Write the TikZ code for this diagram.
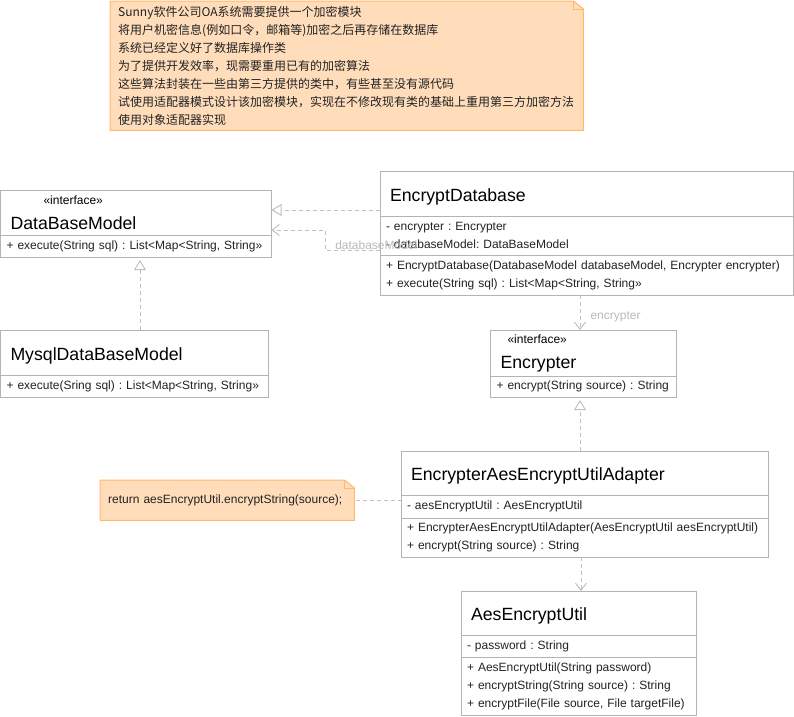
\documentclass[tikz,border=0pt]{standalone}
\usepackage{fontspec}
\setmainfont{Liberation Sans}
\newfontfamily\cjk{Noto Sans CJK SC}
\usetikzlibrary{positioning,arrows.meta,backgrounds}

\definecolor{boxgray}{RGB}{180,180,180}
\definecolor{linkgray}{RGB}{192,192,192}
\definecolor{labelgray}{RGB}{185,185,185}
\definecolor{textdark}{RGB}{34,34,34}
\definecolor{notefill}{RGB}{255,221,187}
\definecolor{noteline}{RGB}{255,185,110}

\tikzset{
  classbox/.style={draw=boxgray, line width=1pt, anchor=north west, align=left, inner ysep=2pt, outer sep=0pt},
  iname/.style={classbox, inner xsep=10pt, minimum height=45pt, text=black, font=\fontsize{17.7}{25}\selectfont},
  uname/.style={iname, text height=18.9pt, text depth=3.7pt},
  umember/.style={classbox, inner xsep=6pt, text=textdark, font=\frenchspacing\fontsize{12}{18}\selectfont},
  realize/.style={draw=linkgray, line width=1pt, dash pattern=on 4pt off 3pt, -{Triangle[open, length=10pt, width=12pt]}},
  depend/.style={draw=linkgray, line width=1pt, dash pattern=on 4pt off 3pt, -{Straight Barb[length=7pt, width=11pt]}},
  notelink/.style={draw=linkgray, line width=1pt, dash pattern=on 4pt off 3pt},
  notebox/.style={fill=notefill, draw=noteline, line width=1pt},
  notetext/.style={anchor=north west, align=left, inner xsep=8pt, inner ysep=0pt, text=textdark},
  linklabel/.style={text=labelgray, inner sep=0pt, font=\fontsize{12}{14}\selectfont},
}

\begin{document}
\begin{tikzpicture}[x=1pt, y=-1pt]
    \useasboundingbox (0,0) rectangle (794,716);

    % notes
    \node[notetext, text width=457pt, minimum height=129pt, font=\cjk\fontsize{12}{18}\selectfont] (task) at (110,1)
        {Sunny软件公司OA系统需要提供一个加密模块\\将用户机密信息(例如口令，邮箱等)加密之后再存储在数据库\\系统已经定义好了数据库操作类\\为了提供开发效率，现需要重用已有的加密算法\\这些算法封装在一些由第三方提供的类中，有些甚至没有源代码\\试使用适配器模式设计该加密模块，实现在不修改现有类的基础上重用第三方加密方法\\使用对象适配器实现};
    \node[notetext, text width=238pt, minimum height=40pt, font=\fontsize{12}{14}\selectfont] (ret) at (100,480)
        {return aesEncryptUtil.encryptString(source);};
    \begin{scope}[on background layer]
        \foreach \n in {task,ret} {
            \draw[notebox] (\n.south west) -- (\n.north west) -- ([xshift=-10pt]\n.north east)
                -- ([yshift=-8pt]\n.north east) -- (\n.south east) -- cycle;
            \draw[notebox, fill=none] ([xshift=-10pt]\n.north east) |- ([yshift=-8pt]\n.north east);
        }
    \end{scope}

    % DataBaseModel
    \node[iname, text width=251pt] (dbmname) at (0.5,190)
        {{\fontsize{12}{12}\selectfont\hspace*{33pt}«interface»}\\DataBaseModel};
    \node[umember, text width=259pt, minimum height=22pt, below=0pt of dbmname.south west, anchor=north west] (dbmops)
        {+ execute(String sql) : List<Map<String, String»};

    % MysqlDataBaseModel
    \node[uname, text width=248pt] (mdbname) at (0.5,330) {MysqlDataBaseModel};
    \node[umember, text width=256pt, minimum height=22pt, below=0pt of mdbname.south west, anchor=north west] (mdbops)
        {+ execute(Sring sql) : List<Map<String, String»};

    % EncryptDatabase
    \node[uname, text width=393pt] (edbname) at (380,171) {EncryptDatabase};
    \node[umember, text width=401pt, minimum height=39pt, below=0pt of edbname.south west, anchor=north west] (edbattr)
        {- encrypter : Encrypter\\- databaseModel: DataBaseModel};
    \node[umember, text width=401pt, minimum height=40pt, below=0pt of edbattr.south west, anchor=north west] (edbops)
        {+ EncryptDatabase(DatabaseModel databaseModel, Encrypter encrypter)\\+ execute(String sql) : List<Map<String, String»};

    % Encrypter
    \node[iname, text width=166pt, minimum height=46pt] (encname) at (490.5,330)
        {{\fontsize{12}{12}\selectfont\hspace*{7pt}«interface»}\\Encrypter};
    \node[umember, text width=174pt, minimum height=21pt, below=0pt of encname.south west, anchor=north west] (encops)
        {+ encrypt(String source) : String};

    % EncrypterAesEncryptUtilAdapter
    \node[uname, text width=347pt, minimum height=44pt] (adaname) at (401,451) {EncrypterAesEncryptUtilAdapter};
    \node[umember, text width=355pt, minimum height=23pt, below=0pt of adaname.south west, anchor=north west] (adaattr)
        {- aesEncryptUtil : AesEncryptUtil};
    \node[umember, text width=355pt, minimum height=39pt, below=0pt of adaattr.south west, anchor=north west] (adaops)
        {+ EncrypterAesEncryptUtilAdapter(AesEncryptUtil aesEncryptUtil)\\+ encrypt(String source) : String};

    % AesEncryptUtil
    \node[uname, text width=215pt, minimum height=44pt] (aesname) at (461,591) {AesEncryptUtil};
    \node[umember, text width=223pt, minimum height=22pt, below=0pt of aesname.south west, anchor=north west] (aesattr)
        {- password : String};
    \node[umember, text width=223pt, minimum height=58pt, below=0pt of aesattr.south west, anchor=north west] (aesops)
        {+ AesEncryptUtil(String password)\\+ encryptString(String source) : String\\+ encryptFile(File source, File targetFile)};

    % connectors
    \draw[realize] ([yshift=-16.5pt]edbname.west) coordinate (r1) -- (r1 -| dbmname.east);
    \draw[depend] ([yshift=-14.5pt]edbattr.west) -- node[linklabel, anchor=south west, pos=0.83] (dblabel) {databaseModel}
        ++(-54.5,0) |- ([yshift=-17.5pt]dbmname.east);
    \draw[realize, shorten >=3pt] ([xshift=5.5pt]mdbname.north) coordinate (r2) -- (r2 |- dbmops.south);
    \draw[depend] ([xshift=-6.5pt]edbops.south) coordinate (d1) -- node[linklabel, right=10pt, yshift=-4.5pt] (enclabel) {encrypter}
        (d1 |- encname.north);
    \draw[realize, shorten >=3pt] ([xshift=-4.5pt]adaname.north) coordinate (r3) -- (r3 |- encops.south);
    \draw[depend] ([xshift=-3.5pt]adaops.south) coordinate (d2) -- (d2 |- aesname.north);
    \draw[notelink, shorten <=2pt] (ret.east) -- (ret.east -| adaattr.west);

\end{tikzpicture}
\end{document}
